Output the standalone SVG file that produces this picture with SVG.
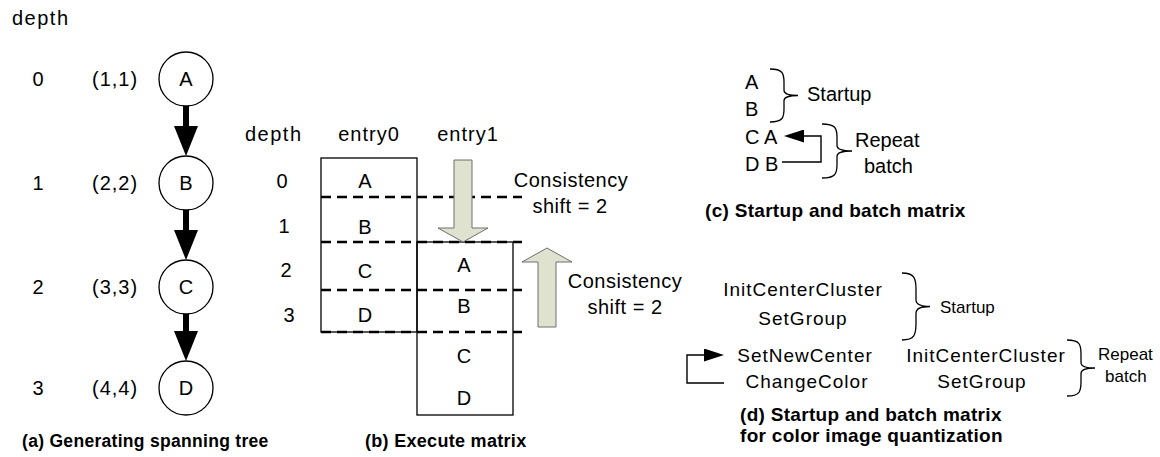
<svg xmlns="http://www.w3.org/2000/svg" width="1160" height="457" viewBox="0 0 1160 457">
<defs>
<style>
text{font-family:"Liberation Sans",Arial,sans-serif;fill:#000}
.t20{font-size:20px}
.ls{letter-spacing:1.5px}
.mid{text-anchor:middle}
.cap{font-size:18px;font-weight:bold;letter-spacing:0.3px}
.d19{font-size:19px;letter-spacing:1px;text-anchor:middle}
.s17{font-size:17px}
.node{fill:#fff;stroke:#000;stroke-width:1.3}
.cell{fill:none;stroke:#000;stroke-width:1.3}
.dash{stroke:#000;stroke-width:2.6;stroke-dasharray:10 6;fill:none}
.big{fill:#dfe2cf;stroke:#6e6e6e;stroke-width:1}
.thin{fill:none;stroke:#000;stroke-width:1.4}
.brace{fill:none;stroke:#000;stroke-width:1.3}
</style>
<marker id="headBig" markerUnits="userSpaceOnUse" markerWidth="30" markerHeight="24" refX="0" refY="12" orient="auto" viewBox="0 0 30 24">
<path d="M0,0 L30,12 L0,24 z" fill="#000"/>
</marker>
<marker id="headSmall" markerUnits="userSpaceOnUse" markerWidth="20" markerHeight="13" refX="0" refY="6.5" orient="auto" viewBox="0 0 20 13">
<path d="M0,0 L20,6.5 L0,13 z" fill="#000"/>
</marker>
</defs>
<rect width="1160" height="457" fill="#fff"/>

<!-- (a) spanning tree -->
<g id="tree-labels">
<text class="t20 ls" x="12" y="25">depth</text>
<text class="t20 mid" x="38" y="86">0</text>
<text class="t20 mid" x="38" y="190">1</text>
<text class="t20 mid" x="38" y="294">2</text>
<text class="t20 mid" x="38" y="395">3</text>
<text class="t20" x="92" y="86" style="letter-spacing:1px">(1,1)</text>
<text class="t20" x="92" y="190" style="letter-spacing:1px">(2,2)</text>
<text class="t20" x="92" y="294" style="letter-spacing:1px">(3,3)</text>
<text class="t20" x="92" y="395" style="letter-spacing:1px">(4,4)</text>
</g>
<g id="nodeA"><circle class="node" cx="186" cy="79" r="27"/><text class="t20 mid" x="186" y="86">A</text></g>
<g id="nodeB"><circle class="node" cx="186" cy="183" r="27"/><text class="t20 mid" x="186" y="190">B</text></g>
<g id="nodeC"><circle class="node" cx="186" cy="287" r="27"/><text class="t20 mid" x="186" y="294">C</text></g>
<g id="nodeD"><circle class="node" cx="186" cy="388" r="27"/><text class="t20 mid" x="186" y="395">D</text></g>
<g id="connectors">
<line x1="186" y1="106" x2="186" y2="126" stroke="#000" stroke-width="6" marker-end="url(#headBig)"/>
<line x1="186" y1="210" x2="186" y2="230" stroke="#000" stroke-width="6" marker-end="url(#headBig)"/>
<line x1="186" y1="314" x2="186" y2="331" stroke="#000" stroke-width="6" marker-end="url(#headBig)"/>
<polyline class="thin" points="782,162 821,162 821,136 804,136" marker-end="url(#headSmall)"/>
<polyline class="thin" points="724,383 687,383 687,355 704,355" marker-end="url(#headSmall)"/>
</g>
<text class="cap" x="22" y="447" style="font-size:17.5px">(a) Generating spanning tree</text>

<!-- (b) execute matrix -->
<g id="matrix">
<text class="t20 ls" x="245" y="141">depth</text>
<text class="t20 mid" x="369" y="141" style="letter-spacing:1px">entry0</text>
<text class="t20 mid" x="468" y="141" style="letter-spacing:1px">entry1</text>
<text class="t20 mid" x="282" y="188">0</text>
<text class="t20 mid" x="284" y="233">1</text>
<text class="t20 mid" x="286" y="277">2</text>
<text class="t20 mid" x="289" y="322">3</text>
<rect class="cell" x="321" y="158" width="96" height="174"/>
<rect class="cell" x="417" y="242" width="96" height="173"/>
<text class="t20 mid" x="365" y="188">A</text>
<text class="t20 mid" x="365" y="234">B</text>
<text class="t20 mid" x="365" y="278">C</text>
<text class="t20 mid" x="365" y="322">D</text>
<text class="t20 mid" x="464" y="272">A</text>
<text class="t20 mid" x="464" y="313">B</text>
<text class="t20 mid" x="464" y="363">C</text>
<text class="t20 mid" x="464" y="405">D</text>
<line class="dash" x1="321" y1="197" x2="522" y2="197"/>
<line class="dash" x1="321" y1="242" x2="522" y2="242"/>
<line class="dash" x1="321" y1="290" x2="522" y2="290"/>
<line class="dash" x1="321" y1="332" x2="522" y2="332"/>
<polygon class="big" points="454,160 472,160 472,228 488,228 463,242 438,228 454,228"/>
<polygon class="big" points="538,327 556,327 556,262 572,262 547,248 522,262 538,262"/>
<text class="t20 mid" x="571" y="187" style="letter-spacing:0.5px">Consistency</text>
<text class="t20 mid" x="570" y="213" style="letter-spacing:0.5px">shift = 2</text>
<text class="t20 mid" x="625" y="288" style="letter-spacing:0.5px">Consistency</text>
<text class="t20 mid" x="625" y="314" style="letter-spacing:0.5px">shift = 2</text>
</g>
<text class="cap" x="365" y="447">(b) Execute matrix</text>

<!-- (c) startup and batch matrix -->
<g id="matrixC">
<text class="t20" x="745" y="89">A</text>
<text class="t20" x="745" y="116">B</text>
<text class="t20" x="745" y="144">C A</text>
<text class="t20" x="745" y="171">D B</text>
<path class="brace" d="M770,69 C782.6,69 784,73.2 784,82.25 L784,90.2 C784,94.4 789.6,95.5 798,95.5 C789.6,95.5 784,96.6 784,100.8 L784,108.75 C784,117.8 782.6,122 770,122"/>
<text class="t20" x="807" y="101">Startup</text>
<path class="brace" d="M822,124 C835.5,124 837,128.3 837,137.5 L837,145.6 C837,149.9 843,151 852,151 C843,151 837,152.1 837,156.4 L837,164.5 C837,173.7 835.5,178 822,178"/>
<text class="t20" x="855" y="147">Repeat</text>
<text class="t20" x="864" y="173">batch</text>
</g>
<text class="cap" x="705" y="217" style="font-size:19px">(c) Startup and batch matrix</text>

<!-- (d) color image quantization -->
<g id="matrixD">
<text class="d19" x="803" y="296">InitCenterCluster</text>
<text class="d19" x="803" y="325">SetGroup</text>
<path class="brace" d="M902,273 C914.6,273 916,278.4 916,289.75 L916,299.8 C916,305.2 921.6,306.5 930,306.5 C921.6,306.5 916,307.8 916,313.2 L916,323.25 C916,334.6 914.6,340 902,340"/>
<text class="s17" x="940" y="313">Startup</text>
<text class="d19" x="805" y="362">SetNewCenter</text>
<text class="d19" x="807" y="388">ChangeColor</text>
<text class="d19" x="986" y="362">InitCenterCluster</text>
<text class="d19" x="982" y="388">SetGroup</text>
<path class="brace" d="M1067,340 C1079.6,340 1081,344.5 1081,354 L1081,362.4 C1081,366.9 1086.6,368 1095,368 C1086.6,368 1081,369.1 1081,373.6 L1081,382 C1081,391.5 1079.6,396 1067,396"/>
<text class="s17" x="1098" y="360">Repeat</text>
<text class="s17" x="1105" y="382">batch</text>
</g>
<text class="cap" x="740" y="421" style="font-size:19px">(d) Startup and batch matrix</text>
<text class="cap" x="740" y="442" style="font-size:19px">for color image quantization</text>
</svg>
